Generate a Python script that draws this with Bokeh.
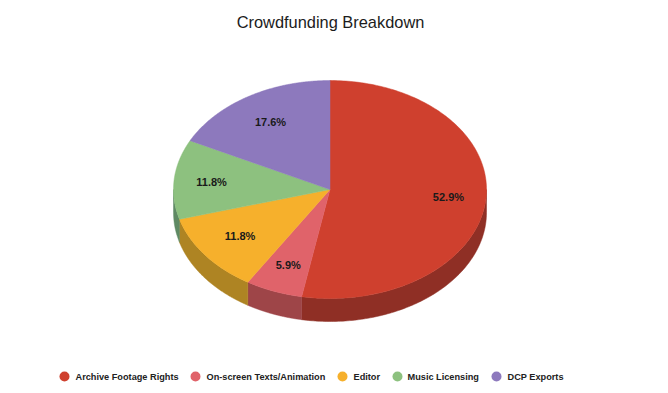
import numpy as np
from bokeh.plotting import figure
from bokeh.models import Range1d, Title
from bokeh.core.properties import value
from bokeh.embed import file_html
from bokeh.resources import INLINE

title_text = "Crowdfunding Breakdown"
categories = ["Archive Footage Rights", "On-screen Texts/Animation", "Editor", "Music Licensing", "DCP Exports"]
shares = [52.9, 5.9, 11.8, 11.8, 17.6]
labels = ["52.9%", "5.9%", "11.8%", "11.8%", "17.6%"]
top_colors = ["#cf402e", "#e0636a", "#f6b02c", "#8dc17f", "#8d79bd"]
side_colors = ["#8f2f25", "#9e4548", "#ae8423", "#5f8a64", "#5f5283"]

# layout, in page pixels
CX, CY, RX, RY, DEPTH = 329.5, 189.0, 156.5, 109.0, 23.0
LABEL_R = 0.76
label_dx = [0, 1, 5, 0, 3]
label_dy = [0, -2, -3, 0, 3]
legend_dot_x = [64, 195, 342, 397, 496]
legend_text_x = [75, 206, 353, 407, 507]
LEGEND_Y = 376
W, H = 660, 385
TOP = 30

p = figure(width=W, height=H, frame_width=W, frame_height=H - TOP,
           output_backend="svg", toolbar_location=None,
           x_range=Range1d(0, W), y_range=Range1d(H, TOP),
           min_border=0, outline_line_color=None,
           background_fill_color="white", border_fill_color="white")
p.axis.visible = False
p.grid.visible = False
p.title = Title(text=title_text, align="center", text_font="Liberation Sans",
                text_font_size="16.4px", text_font_style="normal", text_color="#1c1c1c",
                standoff=0, offset=0, padding=(0, 0, 10, 0))

fr = np.array(shares) / sum(shares)
edges = np.concatenate([[0], np.cumsum(fr)]) * 2 * np.pi  # clockwise from 12 o'clock


def rim(a):
    return CX + RX * np.sin(a), CY - RY * np.cos(a)


# side wall: only the part of the rim that faces the viewer (lower half)
for i in range(len(shares)):
    a0, a1 = max(edges[i], np.pi / 2), min(edges[i + 1], 3 * np.pi / 2)
    if a1 <= a0:
        continue
    a = np.linspace(a0, a1, 120)
    x, y = rim(a)
    p.patch(np.r_[x, x[::-1]], np.r_[y, y[::-1] + DEPTH],
            fill_color=side_colors[i], line_color=side_colors[i], line_width=0.5)

# top face
for i in range(len(shares)):
    a = np.linspace(edges[i], edges[i + 1], 200)
    x, y = rim(a)
    p.patch(np.r_[CX, x], np.r_[CY, y],
            fill_color=top_colors[i], line_color=top_colors[i], line_width=0.5)

# percentage labels
mid = (edges[:-1] + edges[1:]) / 2
lx = CX + LABEL_R * RX * np.sin(mid) + np.array(label_dx)
ly = CY - LABEL_R * RY * np.cos(mid) + np.array(label_dy)
p.text(lx, ly, text=labels, text_font=value("Liberation Sans"), text_font_size="11px",
       text_font_style="bold", text_color="#1a1a1a", text_align="center", text_baseline="middle")

# legend
p.scatter(legend_dot_x, [LEGEND_Y] * 5, marker="circle", size=10, color=top_colors, line_color=None)
p.text(legend_text_x, [LEGEND_Y] * 5, text=categories, text_font=value("Liberation Sans"),
       text_font_size="9.2px", text_font_style="bold", text_color="#222222",
       text_align="left", text_baseline="middle")

open("out.html", "w").write(file_html(p, INLINE))
